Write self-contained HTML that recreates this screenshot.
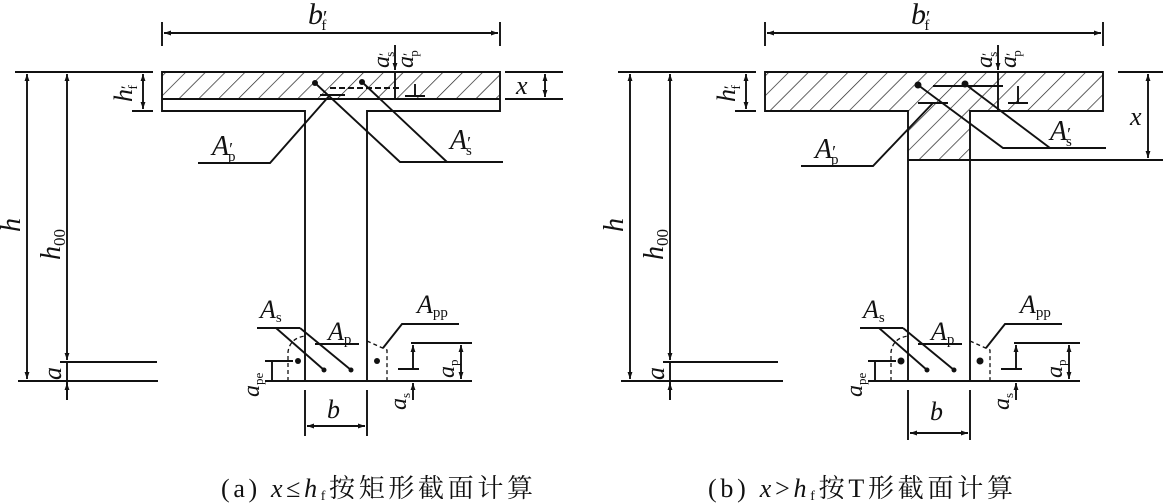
<!DOCTYPE html>
<html><head><meta charset="utf-8"><style>
html,body{margin:0;padding:0;background:#fff;width:1163px;height:503px;overflow:hidden}
svg{display:block}
text{font-family:"Liberation Serif","Noto Serif CJK SC",serif;fill:#111;font-style:italic}
.c{font-style:normal}
.s{font-style:normal}
</style></head><body>
<svg width="1163" height="503" viewBox="0 0 1163 503" xmlns="http://www.w3.org/2000/svg">
<defs>
<pattern id="h" patternUnits="userSpaceOnUse" width="14" height="14" patternTransform="rotate(45)">
<line x1="0" y1="0" x2="0" y2="14" stroke="#222" stroke-width="1.4"/>
</pattern>
<marker id="a" viewBox="0 0 10 10" refX="10" refY="5" markerWidth="10" markerHeight="7" orient="auto-start-reverse" markerUnits="userSpaceOnUse"><path d="M0,1.5 L10,5 L0,8.5z" fill="#111"/></marker>
</defs>
<g stroke="#111" stroke-width="1.9" fill="none">
<!-- ===== (a) ===== -->
<rect x="162" y="72" width="338" height="27" fill="url(#h)" stroke="none"/>
<path d="M162,72 H500 V111 H367 V381 H305 V111 H162 Z"/>
<line x1="162" y1="99" x2="500" y2="99"/>
<line x1="162" y1="22" x2="162" y2="46"/><line x1="500" y1="22" x2="500" y2="46"/>
<line x1="164" y1="33" x2="498" y2="33" marker-start="url(#a)" marker-end="url(#a)"/>
<line x1="15" y1="72" x2="153" y2="72"/>
<line x1="18" y1="381" x2="158" y2="381"/>
<line x1="60" y1="362" x2="157" y2="362"/>
<line x1="132" y1="111" x2="153" y2="111"/>
<line x1="27" y1="74" x2="27" y2="379" marker-start="url(#a)" marker-end="url(#a)"/>
<line x1="67" y1="74" x2="67" y2="360" marker-start="url(#a)" marker-end="url(#a)"/>
<line x1="67" y1="362" x2="67" y2="400"/>
<line x1="67" y1="400" x2="67" y2="383" marker-end="url(#a)"/>
<line x1="143" y1="74" x2="143" y2="109" marker-start="url(#a)" marker-end="url(#a)"/>
<line x1="505" y1="72" x2="563" y2="72"/><line x1="505" y1="99" x2="563" y2="99"/>
<line x1="545" y1="74" x2="545" y2="97" marker-start="url(#a)" marker-end="url(#a)"/>
<line x1="395" y1="45" x2="395" y2="70" marker-end="url(#a)"/>
<line x1="395" y1="72" x2="395" y2="99"/>
<line x1="330" y1="88" x2="400" y2="88" stroke-dasharray="6,3"/>
<line x1="320" y1="95" x2="345" y2="95"/>
<line x1="405" y1="96" x2="425" y2="96"/><line x1="415" y1="84" x2="415" y2="96"/>
<path d="M315,83 L400,162 H503"/>
<path d="M362,82 L447,162"/>
<path d="M330,95 L270,163 H198"/>
<path d="M257,328 H300"/>
<path d="M276,328 L324,370"/>
<path d="M300,328 L351,370"/>
<path d="M315,344 H359"/>
<path d="M288,381 V352 Q290,338 305,336" stroke-dasharray="4,3" stroke-width="1.3"/>
<path d="M367,341 L387,350 V381" stroke-dasharray="4,3" stroke-width="1.3"/>
<path d="M383,348 L402,324 H459"/>
<line x1="265" y1="361" x2="293" y2="361"/><line x1="265" y1="381" x2="305" y2="381"/>
<line x1="272" y1="361" x2="272" y2="381"/>
<line x1="367" y1="381" x2="472" y2="381"/>
<line x1="411" y1="343" x2="472" y2="343"/>
<line x1="461" y1="345" x2="461" y2="379" marker-start="url(#a)" marker-end="url(#a)"/>
<line x1="398" y1="369" x2="419" y2="369"/>
<line x1="413" y1="345" x2="413" y2="369" marker-start="url(#a)"/>
<line x1="413" y1="400" x2="413" y2="383" marker-end="url(#a)"/>
<line x1="305" y1="390" x2="305" y2="436"/><line x1="367" y1="390" x2="367" y2="436"/>
<line x1="307" y1="426" x2="365" y2="426" marker-start="url(#a)" marker-end="url(#a)"/>

<!-- ===== (b) ===== -->
<g transform="translate(603,0)">
<path d="M162,72 H500 V111 H367 V160 H305 V111 H162 Z" fill="url(#h)" stroke="none"/>
<path d="M162,72 H500 V111 H367 V381 H305 V111 H162 Z"/>
<line x1="305" y1="160" x2="560" y2="160"/>
<line x1="162" y1="22" x2="162" y2="46"/><line x1="500" y1="22" x2="500" y2="46"/>
<line x1="164" y1="33" x2="498" y2="33" marker-start="url(#a)" marker-end="url(#a)"/>
<line x1="15" y1="72" x2="153" y2="72"/>
<line x1="18" y1="381" x2="180" y2="381"/>
<line x1="60" y1="362" x2="175" y2="362"/>
<line x1="132" y1="111" x2="153" y2="111"/>
<line x1="27" y1="74" x2="27" y2="379" marker-start="url(#a)" marker-end="url(#a)"/>
<line x1="67" y1="74" x2="67" y2="360" marker-start="url(#a)" marker-end="url(#a)"/>
<line x1="67" y1="362" x2="67" y2="400"/>
<line x1="67" y1="400" x2="67" y2="383" marker-end="url(#a)"/>
<line x1="143" y1="74" x2="143" y2="109" marker-start="url(#a)" marker-end="url(#a)"/>
<line x1="515" y1="72" x2="560" y2="72"/>
<line x1="545" y1="74" x2="545" y2="158" marker-start="url(#a)" marker-end="url(#a)"/>
<line x1="395" y1="45" x2="395" y2="70" marker-end="url(#a)"/>
<line x1="395" y1="72" x2="395" y2="111"/>
<line x1="330" y1="86" x2="400" y2="86"/>
<line x1="315" y1="103" x2="345" y2="103"/>
<line x1="405" y1="103" x2="425" y2="103"/><line x1="415" y1="86" x2="415" y2="103"/>
<path d="M315,85 L400,148 H503"/>
<path d="M362,84 L447,148"/>
<path d="M330,103 L270,166 H198"/>
<path d="M257,328 H300"/>
<path d="M276,328 L324,370"/>
<path d="M300,328 L351,370"/>
<path d="M315,344 H359"/>
<path d="M288,381 V352 Q290,338 305,336" stroke-dasharray="4,3" stroke-width="1.3"/>
<path d="M367,341 L387,350 V381" stroke-dasharray="4,3" stroke-width="1.3"/>
<path d="M383,348 L402,324 H459"/>
<line x1="265" y1="361" x2="293" y2="361"/><line x1="265" y1="381" x2="305" y2="381"/>
<line x1="272" y1="361" x2="272" y2="381"/>
<line x1="367" y1="381" x2="477" y2="381"/>
<line x1="411" y1="343" x2="477" y2="343"/>
<line x1="466" y1="345" x2="466" y2="379" marker-start="url(#a)" marker-end="url(#a)"/>
<line x1="398" y1="369" x2="419" y2="369"/>
<line x1="413" y1="345" x2="413" y2="369" marker-start="url(#a)"/>
<line x1="413" y1="400" x2="413" y2="383" marker-end="url(#a)"/>
<line x1="305" y1="390" x2="305" y2="440"/><line x1="367" y1="390" x2="367" y2="440"/>
<line x1="307" y1="433" x2="365" y2="433" marker-start="url(#a)" marker-end="url(#a)"/>
</g>
</g>
<g fill="#111">
<circle cx="315" cy="83" r="3"/><circle cx="362" cy="82" r="3"/>
<circle cx="324" cy="370" r="2.5"/><circle cx="351" cy="370" r="2.5"/>
<circle cx="298" cy="361" r="3"/><circle cx="377" cy="361" r="3"/>
<circle cx="918" cy="85" r="3.5"/><circle cx="965" cy="84" r="3.5"/>
<circle cx="927" cy="370" r="2.5"/><circle cx="954" cy="370" r="2.5"/>
<circle cx="901" cy="361" r="3.5"/><circle cx="980" cy="361" r="3.5"/>
</g>
<text x="308" y="24" font-size="30">b<tspan class="s" font-size="20">′</tspan><tspan class="s" font-size="15" dx="-6" dy="6">f</tspan></text>
<text x="911" y="24" font-size="30">b<tspan class="s" font-size="20">′</tspan><tspan class="s" font-size="15" dx="-6" dy="6">f</tspan></text>
<text transform="translate(132,102) rotate(-90)" font-size="26">h<tspan class="s" font-size="16">′</tspan><tspan class="s" font-size="13" dx="-4" dy="5">f</tspan></text>
<text transform="translate(735,102) rotate(-90)" font-size="26">h<tspan class="s" font-size="16">′</tspan><tspan class="s" font-size="13" dx="-4" dy="5">f</tspan></text>
<text transform="translate(20,232) rotate(-90)" font-size="28">h</text>
<text transform="translate(60,260) rotate(-90)" font-size="28">h<tspan class="s" font-size="17" dy="5">00</tspan></text>
<text transform="translate(623,232) rotate(-90)" font-size="28">h</text>
<text transform="translate(663,260) rotate(-90)" font-size="28">h<tspan class="s" font-size="17" dy="5">00</tspan></text>
<text transform="translate(61,380) rotate(-90)" font-size="26">a</text>
<text transform="translate(664,380) rotate(-90)" font-size="26">a</text>
<text x="516" y="94" font-size="26">x</text>
<text x="1130" y="125" font-size="26">x</text>
<text transform="translate(389,68) rotate(-90)" font-size="24">a<tspan class="s" font-size="15">′</tspan><tspan class="s" font-size="13" dx="-4" dy="5">s</tspan></text>
<text transform="translate(413,68) rotate(-90)" font-size="24">a<tspan class="s" font-size="15">′</tspan><tspan class="s" font-size="13" dx="-4" dy="5">p</tspan></text>
<text transform="translate(992,68) rotate(-90)" font-size="24">a<tspan class="s" font-size="15">′</tspan><tspan class="s" font-size="13" dx="-4" dy="5">s</tspan></text>
<text transform="translate(1016,68) rotate(-90)" font-size="24">a<tspan class="s" font-size="15">′</tspan><tspan class="s" font-size="13" dx="-4" dy="5">p</tspan></text>
<text x="212" y="155" font-size="28">A<tspan class="s" font-size="18">′</tspan><tspan class="s" font-size="15" dx="-5" dy="6">p</tspan></text>
<text x="450" y="149" font-size="28">A<tspan class="s" font-size="18">′</tspan><tspan class="s" font-size="15" dx="-5" dy="6">s</tspan></text>
<text x="815" y="158" font-size="28">A<tspan class="s" font-size="18">′</tspan><tspan class="s" font-size="15" dx="-5" dy="6">p</tspan></text>
<text x="1050" y="140" font-size="28">A<tspan class="s" font-size="18">′</tspan><tspan class="s" font-size="15" dx="-5" dy="6">s</tspan></text>
<g font-size="26">
<text x="260" y="318">A<tspan class="s" font-size="15" dy="4">s</tspan></text>
<text x="328" y="340">A<tspan class="s" font-size="15" dy="4">p</tspan></text>
<text x="417" y="313">A<tspan class="s" font-size="15" dy="4">pp</tspan></text>
<text x="863" y="318">A<tspan class="s" font-size="15" dy="4">s</tspan></text>
<text x="931" y="340">A<tspan class="s" font-size="15" dy="4">p</tspan></text>
<text x="1020" y="313">A<tspan class="s" font-size="15" dy="4">pp</tspan></text>
<text x="327" y="418">b</text>
<text x="930" y="420">b</text>
</g>
<text transform="translate(259,397) rotate(-90)" font-size="24">a<tspan class="s" font-size="13" dy="4">pe</tspan></text>
<text transform="translate(862,397) rotate(-90)" font-size="24">a<tspan class="s" font-size="13" dy="4">pe</tspan></text>
<text transform="translate(454,378) rotate(-90)" font-size="24">a<tspan class="s" font-size="13" dy="4">p</tspan></text>
<text transform="translate(1062,378) rotate(-90)" font-size="24">a<tspan class="s" font-size="13" dy="4">p</tspan></text>
<text transform="translate(406,410) rotate(-90)" font-size="24">a<tspan class="s" font-size="13" dy="4">s</tspan></text>
<text transform="translate(1009,410) rotate(-90)" font-size="24">a<tspan class="s" font-size="13" dy="4">s</tspan></text>
<text x="221" y="497" font-size="26" class="c" textLength="312">(a) <tspan font-style="italic">x</tspan>≤<tspan font-style="italic">h</tspan><tspan font-size="14" dy="3">f</tspan><tspan dy="-3">按矩形截面计算</tspan></text>
<text x="708" y="497" font-size="26" class="c" textLength="305">(b) <tspan font-style="italic">x</tspan>&gt;<tspan font-style="italic">h</tspan><tspan font-size="14" dy="3">f</tspan><tspan dy="-3">按T形截面计算</tspan></text>
</svg>
</body></html>
